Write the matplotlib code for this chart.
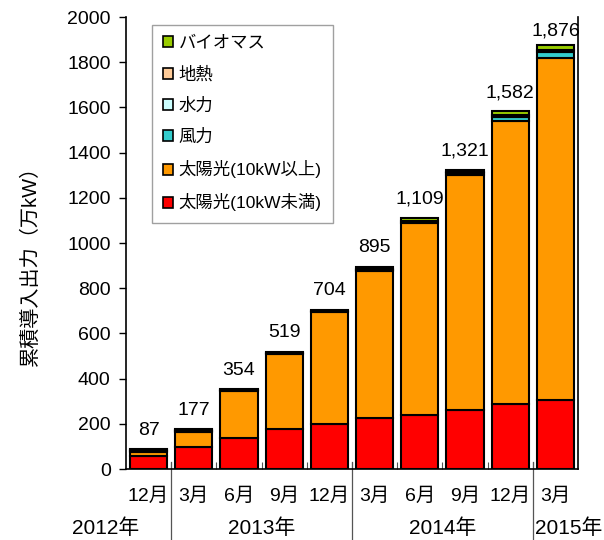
import matplotlib
matplotlib.use("Agg")
import matplotlib.pyplot as plt
import numpy as np
from matplotlib.patches import Patch
from matplotlib.lines import Line2D

plt.rcParams['font.family'] = ['Liberation Sans', 'Noto Sans CJK JP', 'DejaVu Sans']

months = ["12月", "3月", "6月", "9月", "12月", "3月", "6月", "9月", "12月", "3月"]
years = ["2012年", "2013年", "2014年", "2015年"]
totals = [87, 177, 354, 519, 704, 895, 1109, 1321, 1582, 1876]
solar_small = [56, 96, 135, 175, 200, 226, 239, 262, 286, 305]
wind = [6, 6, 4, 5, 5, 7, 8, 10, 18, 29]
hydro = [1, 1, 1, 1, 1, 2, 3, 4, 6, 8]
geo = [0, 0, 0, 0, 0, 0, 0, 1, 1, 1]
biomass = [5, 6, 3, 4, 4, 11, 10, 7, 16, 20]
solar_large = [t - a - b - c - d - e for t, a, b, c, d, e in
               zip(totals, solar_small, wind, hydro, geo, biomass)]

series = [
    ("太陽光(10kW未満)", solar_small, "#FF0000"),
    ("太陽光(10kW以上)", solar_large, "#FF9900"),
    ("風力", wind, "#33CCCC"),
    ("水力", hydro, "#CCFFFF"),
    ("地熱", geo, "#FFCC99"),
    ("バイオマス", biomass, "#99CC00"),
]

fig = plt.figure(figsize=(6.04, 5.40), dpi=100)
ax = fig.add_axes([126 / 604, 71 / 540, 452 / 604, 452 / 540])

x = np.arange(len(months))
bottom = np.zeros(len(months))
for name, vals, col in series:
    vals = np.array(vals, dtype=float)
    ax.bar(x, vals, bottom=bottom, width=0.82, color=col, edgecolor="black",
           linewidth=1.5, label=name, zorder=3)
    bottom += vals

ymax = 2000
for xi, t in zip(x, totals):
    ax.text(xi, min(t + 64, ymax - 82), f"{t:,}", ha="center", va="baseline",
            fontsize=14)

ax.set_xlim(-0.5, 9.5)
ax.set_ylim(0, ymax)
ax.set_yticks(np.arange(0, ymax + 1, 200))
ax.tick_params(axis="y", direction="out", length=5, width=1, labelsize=14, pad=6)
ax.set_ylabel("累積導入出力（万kW）", fontsize=14.5)
ax.yaxis.set_label_coords(-0.19, 0.46)

ax.set_xticks(x)
ax.set_xticklabels(months, fontsize=14)
ax.tick_params(axis="x", length=0, pad=13)
ax.set_xticks(np.arange(0.5, 9.5, 1.0), minor=True)
ax.tick_params(axis="x", which="minor", direction="in", length=5, width=0.8, color="#555555")

for sp in ax.spines.values():
    sp.set_linewidth(1.2)
ax.spines["top"].set_visible(False)

# year separators
for xs in [0.5, 4.5, 8.5]:
    ax.add_line(Line2D([xs, xs], [0.015, -0.16], transform=ax.get_xaxis_transform(),
                       color="#555555", linewidth=0.9, clip_on=False))

year_pos = [-0.95, 2.5, 6.5, 9.3]
for xp, yl in zip(year_pos, years):
    ax.text(xp, -0.13, yl, transform=ax.get_xaxis_transform(), ha="center",
            va="center", fontsize=15)

handles = [Patch(facecolor=c, edgecolor="black", linewidth=1.2, label=n)
           for n, v, c in series][::-1]
leg = ax.legend(handles=handles, loc="upper left", bbox_to_anchor=(0.057, 0.983),
                fontsize=12.5, frameon=True, fancybox=False, edgecolor="#888888",
                handlelength=0.6, handleheight=0.6, handletextpad=0.3,
                labelspacing=0.87, borderpad=0.65, borderaxespad=0)
leg.get_frame().set_linewidth(1.0)

fig.savefig("out.png", dpi=100)
